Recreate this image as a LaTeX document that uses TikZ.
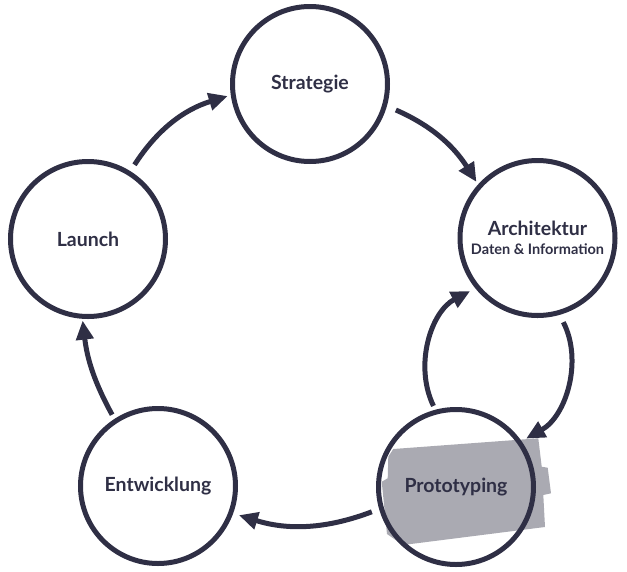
\documentclass[tikz,border=0pt]{standalone}
\usepackage{fontspec}
\setmainfont{Lato}
\usetikzlibrary{arrows.meta}
\definecolor{navy}{RGB}{47,47,69}
\definecolor{marker}{RGB}{170,170,178}
\begin{document}
\begin{tikzpicture}[x=1pt,y=1pt,
  stage/.style={circle, draw=navy, line width=5pt, minimum size=155pt, inner sep=0pt,
    text=navy, font=\bfseries\fontsize{19.5}{21}\selectfont, align=center},
  flow/.style={draw=navy, line width=5pt, -{Triangle[length=19pt,width=17pt]}}]
\useasboundingbox (0,0) rectangle (627,-571);
% marker highlight behind Prototyping
\fill[marker] (393.3,-449) -- (538.3,-438.3) -- (541.7,-466.7) -- (547.7,-467.7)
  -- (551,-493.3) -- (543.3,-495) -- (545,-527) -- (403,-545) -- (387,-534)
  -- (381.7,-481.7) -- (387.7,-478.3) -- (388.3,-456.7) -- cycle;
% stages
\node[stage] (strat) at (310,-84) {Strategie};
\node[stage] (arch) at (537.5,-238) {Architektur\\[-2.5pt]{\fontsize{14.5}{16}\selectfont Daten \& Information}};
\node[stage] (proto) at (456,-487) {Prototyping};
\node[stage] (entw) at (158,-486) {Entwicklung};
\node[stage] (launch) at (88,-239) {Launch};
% connectors
\draw[flow, shorten <=7.6pt, shorten >=3.2pt] (launch.58.9) to[bend left=20] (strat.188.3);
\draw[flow, shorten <=9.8pt, shorten >=3pt] (strat.-16.8) to[bend left=17] (arch.138.8);
\draw[flow, shorten <=8.2pt, shorten >=5.2pt] (arch.-74.5) to[bend left=44] (proto.35.9);
\draw[flow, shorten <=4.2pt, shorten >=5.8pt] (proto.105.9) to[bend left=44] (arch.219.9);
\draw[flow, shorten <=7.8pt, shorten >=6pt] (proto.196.3) to[bend left=19] (entw.-20.9);
\draw[flow, shorten <=4.8pt, shorten >=1.8pt] (entw.123.1) to[bend left=11] (launch.266.7);
\end{tikzpicture}
\end{document}
